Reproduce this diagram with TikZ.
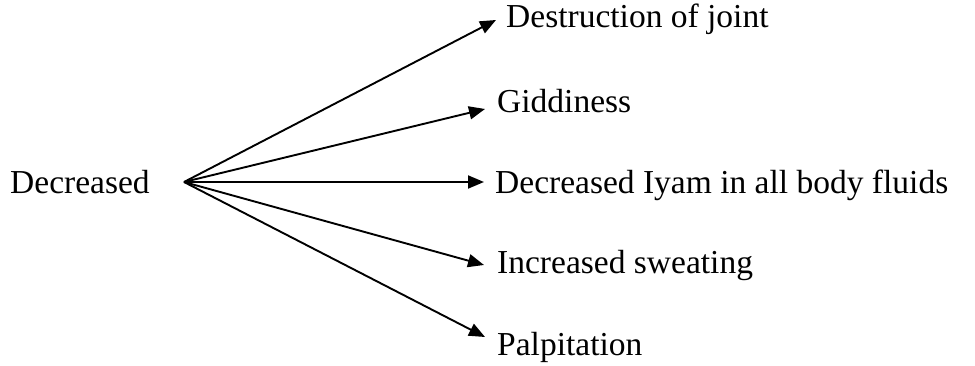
\documentclass[tikz,border=0pt]{standalone}
\usepackage{fontspec}
\setmainfont{Liberation Serif}
\usetikzlibrary{arrows.meta}
\begin{document}
\begin{tikzpicture}[x=1pt,y=-1pt,
  label/.style={anchor=base west,inner sep=0pt,font=\fontsize{33.5}{40}\selectfont},
  link/.style={line width=1.9pt,-{Triangle[length=16pt,width=13pt]}}]
\useasboundingbox (0,0) rectangle (975,366);
% source term and the point where all arrows start
\node[label] (src) at (10,194) {Decreased};
\coordinate (hub) at (184,182);
% effects
\node[label] (e1) at (506,28) {Destruction of joint};
\node[label] (e2) at (497,113) {Giddiness};
\node[label] (e3) at (495,194) {Decreased Iyam in all body fluids};
\node[label] (e4) at (497,274) {Increased sweating};
\node[label] (e5) at (497,355) {Palpitation};
% arrow tips in front of each effect
\coordinate (t1) at (496,20);
\coordinate (t2) at (485,109);
\coordinate (t3) at (484,182);
\coordinate (t4) at (484,265);
\coordinate (t5) at (485,337);
\foreach \i in {1,...,5} \draw[link] (hub) -- (t\i);
\end{tikzpicture}
\end{document}
